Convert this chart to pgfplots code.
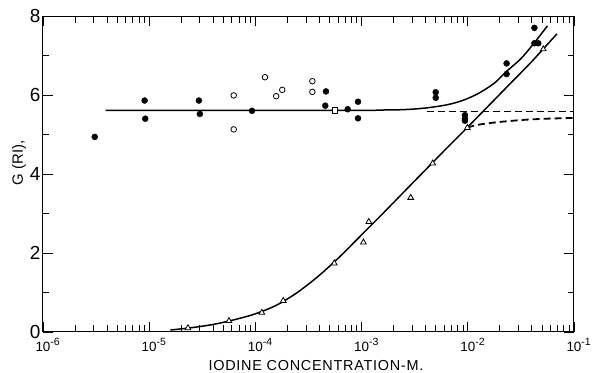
\documentclass[border=0pt]{standalone}
\usepackage{fontspec}
\setmainfont{Liberation Sans}
\usepackage{pgfplots}
\pgfplotsset{compat=1.18}
\newcommand{\ex}[1]{\raisebox{0.45em}{\fontsize{10.5}{10.5}\selectfont -#1}}
\newcommand{\tl}[1]{\hphantom{\ex{#1}}10\ex{#1}}
\begin{document}
\begin{tikzpicture}
\path[use as bounding box] (0bp,0bp) rectangle (592bp,373bp);
\begin{axis}[
  at={(43bp,41bp)}, anchor=south west,
  scale only axis, width=531bp, height=316bp,
  xmode=log, xmin=1e-6, xmax=1e-1, ymin=0, ymax=8,
  xtick={1e-6,1e-5,1e-4,1e-3,1e-2,1e-1},
  xticklabels={\tl{6},\tl{5},\tl{4},\tl{3},\tl{2},\tl{1}},
  minor xtick={2e-6,3e-6,4e-6,5e-6,6e-6,7e-6,8e-6,9e-6,
    2e-5,3e-5,4e-5,5e-5,6e-5,7e-5,8e-5,9e-5,
    2e-4,3e-4,4e-4,5e-4,6e-4,7e-4,8e-4,9e-4,
    2e-3,3e-3,4e-3,5e-3,6e-3,7e-3,8e-3,9e-3,
    2e-2,3e-2,4e-2,5e-2,6e-2,7e-2,8e-2,9e-2},
  ytick={0,2,4,6,8}, minor ytick={1,3,5,7},
  tick align=inside, tick pos=both,
  major tick length=10bp, minor tick length=6.5bp,
  every tick/.style={black, line width=0.8bp},
  axis line style={black, line width=1bp},
  /pgf/number format/assume math mode=true,
  xticklabel style={font=\fontsize{13.5}{13.5}\selectfont, anchor=north, inner sep=0bp, yshift=-6bp},
  yticklabel style={font=\fontsize{19}{19}\selectfont, inner sep=0.5bp, xshift=-2bp},
  xlabel={IODINE CONCENTRATION-M.},
  xlabel style={at={(axis description cs:0.514,0)}, anchor=base, yshift=-39bp,
    font=\fontsize{14.5}{14.5}\selectfont\addfontfeature{LetterSpace=5}},
  ylabel={G (RI),},
  ylabel style={at={(axis description cs:0,0.535)}, anchor=center, yshift=24bp,
    font=\fontsize{15}{15}\selectfont},
]
% upper solid curve
\addplot[black, line width=1.5bp, smooth] coordinates {
 (3.89e-6,5.61) (1e-4,5.61) (1e-3,5.61) (1.585e-3,5.62) (2.512e-3,5.63)
 (3.981e-3,5.67) (6.310e-3,5.75) (8.913e-3,5.86) (1.259e-2,6.04)
 (1.778e-2,6.30) (2.323e-2,6.60) (3.162e-2,6.92) (4.169e-2,7.30) (5.623e-2,7.75)};
% lower solid curve
\addplot[black, line width=1.5bp, smooth] coordinates {
 (1.585e-5,0.05) (2.512e-5,0.11) (3.981e-5,0.19) (6.310e-5,0.31) (1e-4,0.46)
 (1.585e-4,0.68) (2.512e-4,1.01) (3.981e-4,1.43) (6.310e-4,1.92) (1e-3,2.46)
 (1.585e-3,3.00) (2.512e-3,3.55) (3.981e-3,4.10) (6.310e-3,4.65) (1e-2,5.19)
 (1.585e-2,5.74) (2.512e-2,6.29) (3.981e-2,6.84) (6.918e-2,7.55)};
% dashed lines
\addplot[black, line width=1.8bp, dash pattern=on 7bp off 4bp] coordinates {
 (4.1e-3,5.58) (1e-1,5.58)};
\addplot[black, line width=1.8bp, dash pattern=on 7bp off 4bp, smooth] coordinates {
 (9.9e-3,5.17) (1.21e-2,5.24) (1.87e-2,5.31) (3.33e-2,5.37) (5.5e-2,5.40) (1e-1,5.42)};
% filled circles
\addplot[only marks, mark=*, mark size=3bp, black] coordinates {
 (3.07e-6,4.94) (9.06e-6,5.86) (9.18e-6,5.40) (2.94e-5,5.86) (3.0e-5,5.52)
 (9.29e-5,5.60) (4.62e-4,6.09) (4.55e-4,5.73) (7.40e-4,5.64) (9.25e-4,5.83)
 (9.25e-4,5.41) (4.99e-3,6.07) (4.99e-3,5.93) (9.4e-3,5.49) (9.4e-3,5.40)
 (9.4e-3,5.35) (2.32e-2,6.80) (2.32e-2,6.53) (4.24e-2,7.70) (4.24e-2,7.31)
 (4.61e-2,7.31)};
% open circles
\addplot[only marks, mark=o, mark size=2.8bp, black, mark options={line width=0.8bp}] coordinates {
 (6.25e-5,5.99) (6.25e-5,5.13) (1.23e-4,6.45) (1.57e-4,5.97) (1.79e-4,6.13)
 (3.44e-4,6.35) (3.44e-4,6.08)};
% open square
\addplot[only marks, mark=square*, mark size=2.6bp, black, mark options={fill=white, line width=0.8bp}] coordinates {
 (5.65e-4,5.61)};
% triangles
\addplot[only marks, mark=triangle*, mark size=3.3bp, black, mark options={fill=white, line width=0.8bp}] coordinates {
 (2.32e-5,0.10) (5.64e-5,0.28) (1.15e-4,0.49) (1.83e-4,0.79) (5.53e-4,1.74)
 (1.04e-3,2.27) (1.17e-3,2.79) (2.90e-3,3.40) (4.67e-3,4.27) (9.9e-3,5.17)
 (5.14e-2,7.16)};
\end{axis}
\end{tikzpicture}
\end{document}
